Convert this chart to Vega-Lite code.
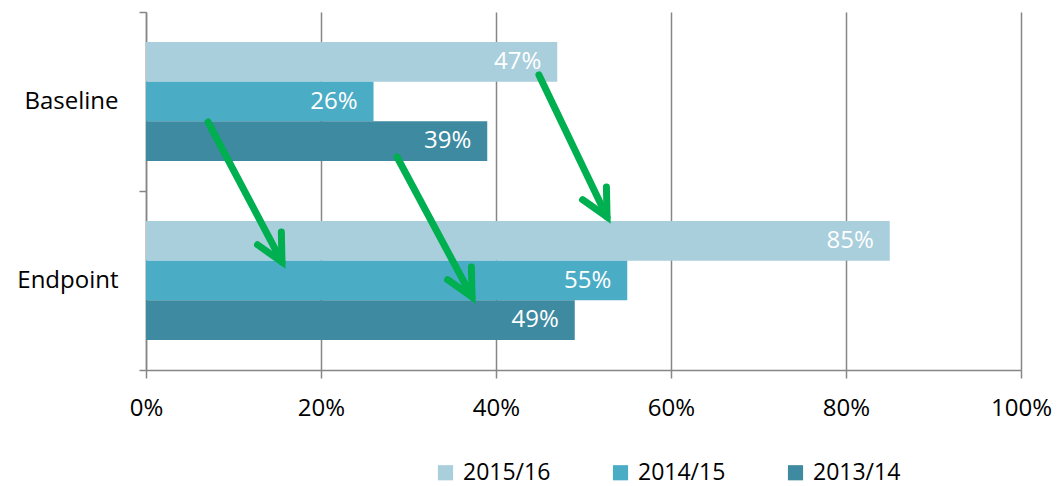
{
  "$schema": "https://vega.github.io/schema/vega-lite/v6.json",
  "width": 875,
  "height": 358,
  "autosize": {"type": "none"},
  "padding": {"left": 146, "top": 12, "right": 38, "bottom": 116},
  "config": {"font": "Open Sans", "view": {"stroke": null}},
  "datasets": {
    "bars": [
      {"period": "Baseline", "series": "2015/16", "value": 0.47},
      {"period": "Baseline", "series": "2014/15", "value": 0.26},
      {"period": "Baseline", "series": "2013/14", "value": 0.39},
      {"period": "Endpoint", "series": "2015/16", "value": 0.85},
      {"period": "Endpoint", "series": "2014/15", "value": 0.55},
      {"period": "Endpoint", "series": "2013/14", "value": 0.49}
    ],
    "arrows": [
      {"x1": 0.0709, "y1": 0.6145, "x2": 0.1554, "y2": 1.3966},
      {"x1": 0.2869, "y1": 0.810, "x2": 0.3726, "y2": 1.592},
      {"x1": 0.4491, "y1": 0.352, "x2": 0.5269, "y2": 1.145}
    ]
  },
  "layer": [
    {
      "data": {"name": "bars"},
      "encoding": {
        "y": {
          "field": "period",
          "type": "nominal",
          "sort": ["Baseline", "Endpoint"],
          "scale": {"paddingInner": 0.335, "paddingOuter": 0.1675},
          "axis": {
            "title": null,
            "ticks": false,
            "domainColor": "#868686",
            "domainWidth": 1.5,
            "labelFontSize": 24,
            "labelColor": "#000000",
            "labelPadding": 28,
            "grid": false
          }
        },
        "yOffset": {
          "field": "series",
          "type": "nominal",
          "scale": {"domain": ["2015/16", "2014/15", "2013/14"], "paddingInner": 0, "paddingOuter": 0}
        },
        "x": {
          "field": "value",
          "type": "quantitative",
          "scale": {"domain": [0, 1]},
          "axis": {
            "title": null,
            "values": [0, 0.2, 0.4, 0.6, 0.8, 1],
            "format": ".0%",
            "labelFlush": false,
            "grid": true,
            "gridColor": "#868686",
            "gridWidth": 1.5,
            "domainColor": "#868686",
            "domainWidth": 1.5,
            "tickColor": "#868686",
            "tickWidth": 1.5,
            "tickSize": 8,
            "labelFontSize": 24,
            "labelColor": "#000000",
            "labelPadding": 18
          }
        }
      },
      "layer": [
        {
          "mark": {"type": "bar"},
          "encoding": {
            "color": {
              "field": "series",
              "type": "nominal",
              "scale": {"domain": ["2015/16", "2014/15", "2013/14"], "range": ["#A9CEDC", "#4BACC6", "#3D8AA1"]},
              "legend": {
                "title": null,
                "orient": "none",
                "direction": "horizontal",
                "legendX": 288,
                "legendY": 449,
                "symbolType": "square",
                "symbolSize": 230,
                "symbolStrokeWidth": 0,
                "labelFontSize": 23,
                "labelColor": "#000000",
                "labelOffset": 6,
                "columnPadding": 58
              }
            }
          }
        },
        {
          "mark": {"type": "text", "align": "right", "baseline": "middle", "dx": -16, "color": "#ffffff", "fontSize": 24},
          "encoding": {
            "text": {"field": "value", "type": "quantitative", "format": ".0%"}
          }
        }
      ]
    },
    {
      "data": {"name": "arrows"},
      "encoding": {
        "y": {
          "field": "y1",
          "type": "quantitative",
          "scale": {"domain": [0, 2], "reverse": true},
          "axis": {
            "title": null,
            "orient": "left",
            "values": [0, 1, 2],
            "labels": false,
            "domain": false,
            "grid": false,
            "ticks": true,
            "tickSize": 7,
            "tickColor": "#868686",
            "tickWidth": 1.5
          }
        }
      },
      "layer": [
        {
          "mark": {"type": "rule", "color": "#00B050", "strokeWidth": 7, "strokeCap": "round"},
          "encoding": {
            "x": {"field": "x1", "type": "quantitative"},
            "x2": {"field": "x2"},
            "y2": {"field": "y2"}
          }
        },
        {
          "mark": {
            "type": "point",
            "shape": "M -0.45 -0.89 L 0 0 L 0.45 -0.89",
            "filled": false,
            "stroke": "#00B050",
            "strokeWidth": 7,
            "strokeCap": "round",
            "strokeJoin": "miter",
            "opacity": 1,
            "size": 3600,
            "angle": 332
          },
          "encoding": {
            "x": {"field": "x2", "type": "quantitative"},
            "y": {"field": "y2", "type": "quantitative"}
          }
        }
      ]
    }
  ],
  "resolve": {"scale": {"y": "independent"}}
}
